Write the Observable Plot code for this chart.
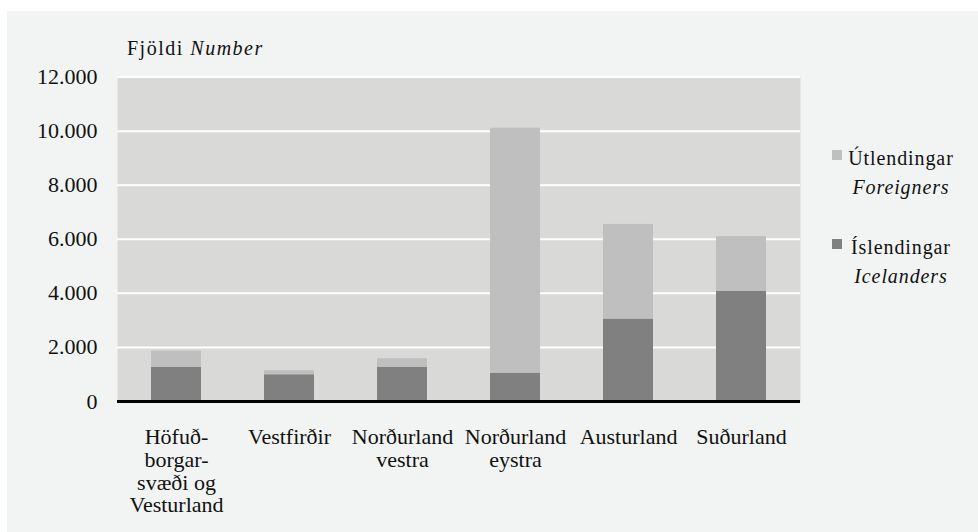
<!DOCTYPE html>
<html>
<head>
<meta charset="utf-8">
<script src="https://cdn.jsdelivr.net/npm/d3@7"></script>
<script src="https://cdn.jsdelivr.net/npm/@observablehq/plot@0.6"></script>
<style>
  html, body { margin: 0; padding: 0; background: #ffffff; }
  #wrap { position: relative; width: 978px; height: 532px; overflow: hidden; color: #111; }
  #wrap, #wrap div, #wrap i, #wrap svg, #wrap svg text, #wrap svg tspan {
    font-family: "Liberation Serif", "Times New Roman", Times, serif !important;
  }
  #panel { position: absolute; left: 7px; top: 11px; width: 971px; height: 521px; background: #f2f4f3; }
  #chart { position: absolute; left: 0; top: 0; }
  #title { position: absolute; left: 127px; top: 36px; font-size: 20px; letter-spacing: 1.5px; white-space: nowrap; line-height: 24px; }
  .leg { position: absolute; left: 832px; width: 140px; font-size: 20px; letter-spacing: 0.9px; line-height: 29px; }
  .leg .sw { position: absolute; left: 0; width: 10px; height: 10px; }
  .leg .txt { position: absolute; left: 14px; width: 110px; text-align: center; }
</style>
</head>
<body>
<div id="wrap">
  <div id="panel"></div>
  <div id="chart"></div>
  <div id="title">Fjöldi <i>Number</i></div>
  <div id="legend"></div>
</div>
<script>
// ---- data ----
const regions = ["Höfuð-\nborgar-\nsvæði og\nVesturland", "Vestfirðir", "Norðurland\nvestra", "Norðurland\neystra", "Austurland", "Suðurland"];
const seriesNames = ["Íslendingar", "Útlendingar"];
const seriesEnglish = ["Icelanders", "Foreigners"];
const icelanders = [1270, 990, 1270, 1050, 3050, 4070];
const foreigners = [590, 150, 310, 9060, 3500, 2030];
const yTicks = [0, 2000, 4000, 6000, 8000, 10000, 12000];
const seriesColors = ["#808080", "#bfbfbf"];

const rows = [];
regions.forEach((r, i) => {
  rows.push({region: r, group: seriesNames[0], value: icelanders[i]});
  rows.push({region: r, group: seriesNames[1], value: foreigners[i]});
});

const fmt = d => d3.format(",")(d).replace(/,/g, ".");
const serif = "'Liberation Serif', 'Times New Roman', Times, serif";

const chart = Plot.plot({
  width: 978,
  height: 532,
  marginLeft: 117,
  marginRight: 178,
  marginTop: 76.6,
  marginBottom: 131,
  style: {background: "transparent", fontFamily: serif, color: "#111"},
  x: {domain: regions, paddingInner: 0.56, paddingOuter: 0.28, label: null},
  y: {domain: [0, 12000], label: null},
  color: {domain: seriesNames, range: seriesColors},
  marks: [
    Plot.frame({fill: "#d9d9d8", stroke: null}),
    Plot.gridY(yTicks, {stroke: "#ffffff", strokeOpacity: 1, strokeWidth: 2}),
    Plot.barY(rows, {x: "region", y: "value", fill: "group", order: seriesNames, inset: 0}),
    Plot.ruleY([0], {stroke: "#000", strokeWidth: 3}),
    Plot.axisY(yTicks, {tickSize: 0, tickPadding: 20, tickFormat: fmt, fontSize: 22, fontFamily: serif, fill: "#111", label: null, style: "letter-spacing:1px"}),
    Plot.axisX({tickSize: 0, tickPadding: 26, fontSize: 22, fontFamily: serif, lineHeight: 1.04, fill: "#111", label: null, style: "letter-spacing:0.8px"})
  ]
});
document.getElementById("chart").appendChild(chart);

// legend (foreigners on top)
const legend = document.getElementById("legend");
const legItems = [
  {name: seriesNames[1], en: seriesEnglish[1], color: seriesColors[1], top: 144},
  {name: seriesNames[0], en: seriesEnglish[0], color: seriesColors[0], top: 233}
];
legItems.forEach(it => {
  const d = document.createElement("div");
  d.className = "leg";
  d.style.top = it.top + "px";
  d.innerHTML = `<div class="sw" style="top:6px;background:${it.color}"></div><div class="txt">${it.name}<br><i>${it.en}</i></div>`;
  legend.appendChild(d);
});
</script>
</body>
</html>
